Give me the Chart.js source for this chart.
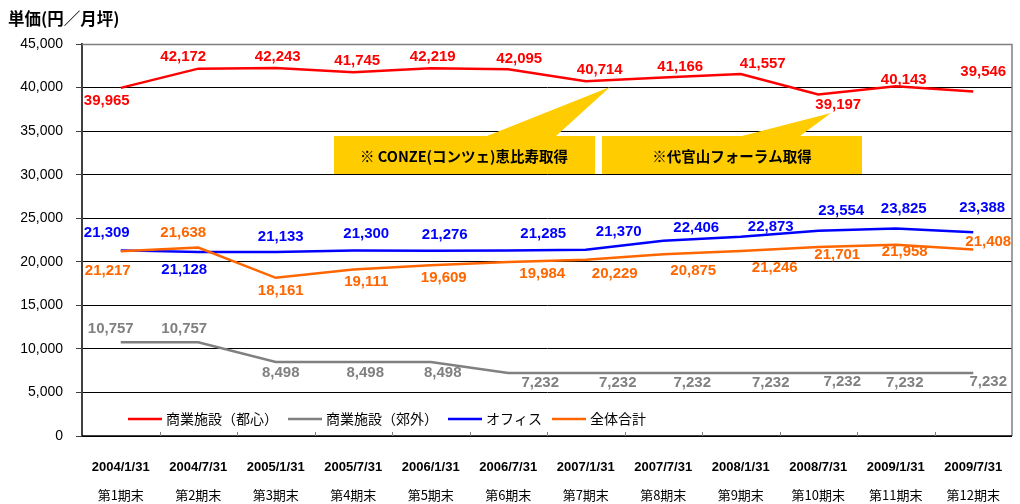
<!DOCTYPE html>
<html>
<head>
<meta charset="utf-8">
<script src="https://cdn.jsdelivr.net/npm/chart.js@4.4.1/dist/chart.umd.min.js"></script>
<style>
html,body{margin:0;padding:0;background:#fff;}
#wrap{width:1020px;height:504px;position:relative;}
</style>
</head>
<body>
<div id="wrap"><canvas id="c" width="1020" height="504"></canvas></div>
<script>
// ---- data ----
const categories = ['2004/1/31','2004/7/31','2005/1/31','2005/7/31','2006/1/31','2006/7/31','2007/1/31','2007/7/31','2008/1/31','2008/7/31','2009/1/31','2009/7/31'];
const periods = ['第1期末','第2期末','第3期末','第4期末','第5期末','第6期末','第7期末','第8期末','第9期末','第10期末','第11期末','第12期末'];
const urbanRetail = [39965,42172,42243,41745,42219,42095,40714,41166,41557,39197,40143,39546];
const suburbanRetail = [10757,10757,8498,8498,8498,7232,7232,7232,7232,7232,7232,7232];
const office = [21309,21128,21133,21300,21276,21285,21370,22406,22873,23554,23825,23388];
const total = [21217,21638,18161,19111,19609,19984,20229,20875,21246,21701,21958,21408];
const yTicks = [0,5000,10000,15000,20000,25000,30000,35000,40000,45000];
const seriesNames = ['商業施設（都心）','商業施設（郊外）','オフィス','全体合計'];
const yTitle = '単価(円／月坪)';
const notes = ['※ CONZE(コンツェ)恵比寿取得','※代官山フォーラム取得'];

// ---- styling: label offsets (px, relative to point) ----
const labelOffsets = [
  [[-14,13],[-15,-12],[2,-11],[4,-11],[2,-11],[11,-10],[14,-11],[17,-11],[22,-10],[20,10],[8,-6],[10,-20]],
  [[-10,-13],[-14,-13],[5,11],[12,11],[12,11],[32,10],[32,10],[29,10],[30,10],[24,9],[9,10],[15,9]],
  [[-14,-18],[-14,18],[5,-15],[13,-17],[14,-16],[35,-17],[33,-18],[33,-13],[30,-10],[23,-20],[8,-20],[9,-24]],
  [[-13,20],[-15,-15],[5,13],[13,12],[13,13],[34,12],[29,14],[30,17],[34,17],[19,8],[9,7],[15,-8]]
];
const colors = ['#FF0000','#808080','#0000FF','#FF6600'];
const JP = '"Noto Sans CJK JP", "Liberation Sans", sans-serif';
const LAT = '"Liberation Sans", Arial, sans-serif';

const decor = {
  id: 'decor',
  beforeDatasetsDraw(chart) {
    const ctx = chart.ctx;
    ctx.save();
    ctx.fillStyle = '#FFCC00';
    // callout 1
    ctx.beginPath();
    ctx.moveTo(334,136); ctx.lineTo(487,136); ctx.lineTo(610,87); ctx.lineTo(556,136);
    ctx.lineTo(595,136); ctx.lineTo(595,174); ctx.lineTo(334,174); ctx.closePath(); ctx.fill();
    // callout 2
    ctx.beginPath();
    ctx.moveTo(602,136); ctx.lineTo(742,136); ctx.lineTo(831,113); ctx.lineTo(800,136);
    ctx.lineTo(862,136); ctx.lineTo(862,174); ctx.lineTo(602,174); ctx.closePath(); ctx.fill();
    ctx.fillStyle = '#000';
    ctx.font = 'bold 14.5px ' + JP;
    ctx.textAlign = 'center'; ctx.textBaseline = 'middle';
    ctx.fillText(notes[0], 464, 156);
    ctx.fillText(notes[1], 732, 156);
    ctx.restore();
  },
  afterDatasetsDraw(chart) {
    const ctx = chart.ctx;
    ctx.save();
    ctx.font = 'bold 15px ' + LAT;
    ctx.textAlign = 'center'; ctx.textBaseline = 'middle';
    chart.data.datasets.forEach((ds, di) => {
      const meta = chart.getDatasetMeta(di);
      ctx.fillStyle = colors[di];
      meta.data.forEach((pt, i) => {
        const off = labelOffsets[di][i];
        ctx.fillText(ds.data[i].toLocaleString('en-US'), pt.x + off[0], pt.y + off[1]);
      });
    });
    ctx.restore();
  },
  afterDraw(chart) {
    const ctx = chart.ctx;
    const a = chart.chartArea;
    const xs = chart.scales.x;
    ctx.save();
    // plot border top/right
    ctx.strokeStyle = '#808080'; ctx.lineWidth = 1.5;
    ctx.beginPath();
    ctx.moveTo(a.left, a.top + 0.5); ctx.lineTo(a.right, a.top + 0.5); ctx.lineTo(a.right, a.bottom);
    ctx.stroke();
    // x axis line
    ctx.strokeStyle = '#000'; ctx.lineWidth = 1.5;
    ctx.beginPath(); ctx.moveTo(a.left, a.bottom); ctx.lineTo(a.right, a.bottom); ctx.stroke();
    // x tick marks at category boundaries
    ctx.strokeStyle = '#808080'; ctx.lineWidth = 1;
    const w = (xs.getPixelForValue(1) - xs.getPixelForValue(0));
    for (let i = 1; i < categories.length; i++) {
      const x = Math.round(xs.getPixelForValue(i) - w / 2) + 0.5;
      ctx.beginPath(); ctx.moveTo(x, a.bottom); ctx.lineTo(x, a.bottom - 4); ctx.stroke();
    }
    // x labels
    ctx.fillStyle = '#000';
    ctx.textAlign = 'center'; ctx.textBaseline = 'middle';
    categories.forEach((c, i) => {
      const x = xs.getPixelForValue(i);
      ctx.font = 'bold 13px ' + LAT;
      ctx.fillText(c, x, 467);
      ctx.font = '13px ' + JP;
      ctx.fillText(periods[i], x, 495);
    });
    // y title
    ctx.textAlign = 'left';
    ctx.font = 'bold 16.5px ' + JP;
    ctx.fillText(yTitle, 8, 19);
    // legend
    ctx.font = '14px ' + JP;
    let lx = 128;
    const ly = 419;
    chart.data.datasets.forEach((ds, di) => {
      ctx.strokeStyle = colors[di]; ctx.lineWidth = 2.5;
      ctx.beginPath(); ctx.moveTo(lx, ly); ctx.lineTo(lx + 34, ly); ctx.stroke();
      ctx.fillStyle = '#000';
      ctx.fillText(ds.label, lx + 38, ly);
      lx += 38 + ctx.measureText(ds.label).width + 10;
    });
    ctx.restore();
  }
};

const mk = (label, data, color, order) => ({
  label, data, borderColor: color, backgroundColor: color,
  borderWidth: 2.5, pointRadius: 0, tension: 0, fill: false, order
});

new Chart(document.getElementById('c'), {
  type: 'line',
  data: {
    labels: categories,
    datasets: [
      mk(seriesNames[0], urbanRetail, colors[0], 3),
      mk(seriesNames[1], suburbanRetail, colors[1], 2),
      mk(seriesNames[2], office, colors[2], 1),
      mk(seriesNames[3], total, colors[3], 0)
    ]
  },
  options: {
    responsive: false,
    animation: false,
    devicePixelRatio: 1,
    layout: { padding: { top: 44, right: 8, left: 0, bottom: 0 } },
    plugins: { legend: { display: false }, tooltip: { enabled: false } },
    scales: {
      x: {
        type: 'category',
        offset: true,
        grid: { display: false },
        border: { display: false },
        ticks: { display: false },
        afterFit(s) { s.height = 68; }
      },
      y: {
        min: 0, max: 45000,
        afterBuildTicks(s) { s.ticks = yTicks.map(v => ({ value: v })); },
        afterFit(s) { s.width = 82; },
        ticks: {
          color: '#000',
          font: { family: LAT, size: 14 },
          padding: 13,
          callback: v => v.toLocaleString('en-US')
        },
        grid: {
          color: ctx => (ctx.tick && ctx.tick.value === 45000) ? 'rgba(0,0,0,0)' : '#000',
          lineWidth: 1,
          tickLength: 6,
          tickColor: '#404040'
        },
        border: { color: '#404040', width: 2 }
      }
    }
  },
  plugins: [decor]
});
</script>
</body>
</html>
